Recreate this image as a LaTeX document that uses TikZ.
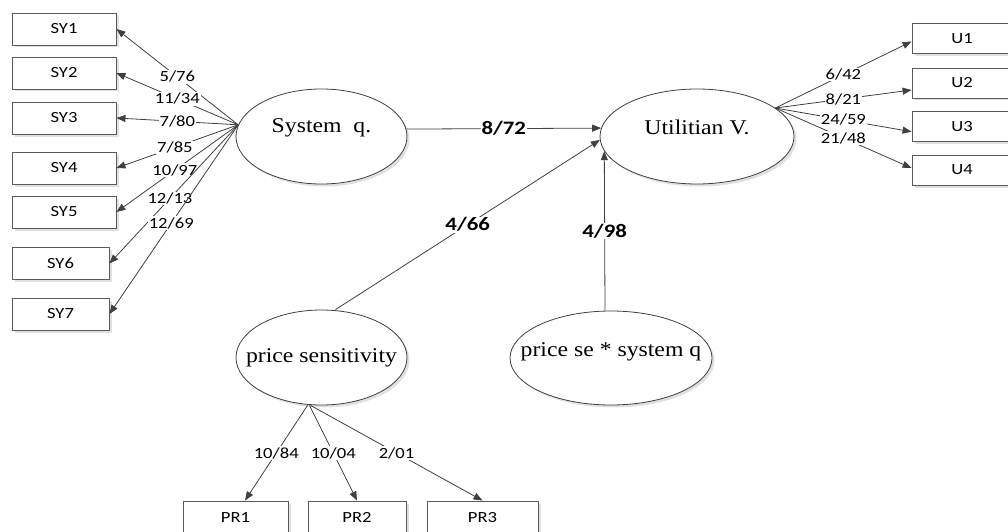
\documentclass[tikz,border=0pt]{standalone}
\usepackage{fontspec}
\newfontfamily\labfont{Carlito}[FakeStretch=1.2]
\newfontfamily\latfont{Liberation Serif}[FakeStretch=1.13]
\usetikzlibrary{shapes.geometric,arrows.meta,shadows}
\definecolor{edgecol}{HTML}{404040}
\definecolor{boxline}{HTML}{5A5A5A}
\tikzset{
  shad/.style={drop shadow={shadow xshift=2.5pt, shadow yshift=-2.5pt, fill=black!12, opacity=1}},
  obs/.style={draw=boxline, line width=0.9pt, fill=white, inner sep=0pt, shad,
    font=\labfont\fontsize{15.5}{18}\selectfont},
  lat/.style={ellipse, draw=black!75, line width=0.8pt, fill=white, inner sep=0pt, shad},
  latlab/.style={font=\latfont\fontsize{21}{24}\selectfont, inner sep=0pt},
  conn/.style={draw=edgecol, line width=0.8pt, -{Triangle[length=9pt,width=7pt]}},
  plain/.style={draw=edgecol, line width=0.8pt},
  coef/.style={fill=white, inner sep=1pt, text=black, font=\labfont\fontsize{15.5}{18}\selectfont},
  bcoef/.style={fill=white, inner sep=1pt, text=black, font=\labfont\bfseries\fontsize{19}{22}\selectfont},
}
\begin{document}
\begin{tikzpicture}[x=1pt,y=-1pt]
\useasboundingbox (0,0) rectangle (1008,532);
% observed boxes (left)
\node[obs, minimum width=104pt, minimum height=32pt] (sy1) at (64,29) {SY1};
\node[obs, minimum width=104pt, minimum height=32pt] (sy2) at (64,73) {SY2};
\node[obs, minimum width=104pt, minimum height=32pt] (sy3) at (64,118) {SY3};
\node[obs, minimum width=104pt, minimum height=32pt] (sy4) at (64,168) {SY4};
\node[obs, minimum width=104pt, minimum height=32pt] (sy5) at (64,212) {SY5};
\node[obs, minimum width=97pt, minimum height=32pt] (sy6) at (60.5,263.5) {SY6};
\node[obs, minimum width=97pt, minimum height=32pt] (sy7) at (60.5,314) {SY7};
% right boxes
\node[obs, minimum width=100pt, minimum height=30pt] (u1) at (962,38.5) {U1};
\node[obs, minimum width=100pt, minimum height=30pt] (u2) at (962,83) {U2};
\node[obs, minimum width=100pt, minimum height=30pt] (u3) at (962,126.7) {U3};
\node[obs, minimum width=100pt, minimum height=30pt] (u4) at (962,170) {U4};
% bottom boxes
\node[obs, minimum width=105pt, minimum height=33pt] (pr1) at (235.5,517.5) {PR1};
\node[obs, minimum width=98pt, minimum height=33pt] (pr2) at (357,517.5) {PR2};
\node[obs, minimum width=111pt, minimum height=33pt] (pr3) at (482.5,517.5) {PR3};
% latent ellipses
\node[lat, minimum width=171pt, minimum height=95pt,
  label={[latlab, yshift=9pt]center:System\ \ q.}] (sq) at (321.5,136.5) {};
\node[lat, minimum width=194pt, minimum height=95pt,
  label={[latlab, yshift=9.5pt]center:Utilitian V.}] (uv) at (697,136.5) {};
\node[lat, minimum width=171pt, minimum height=95pt,
  label={[latlab]center:price sensitivity}] (ps) at (321.5,357.5) {};
\node[lat, minimum width=202pt, minimum height=94pt,
  label={[latlab, yshift=6pt]center:price se * system q}] (pse) at (611,358) {};
% left connectors
\draw[conn] (sq.172) -- node[coef, pos=0.5]{5/76} (sy1.east);
\draw[conn] (sq.172) -- node[coef, pos=0.5]{11/34} (sy2.east);
\draw[conn] (sq.172) -- node[coef, pos=0.5]{7/80} (sy3.east);
\draw[conn] (sq.172) -- node[coef, pos=0.52]{7/85} (sy4.east);
\draw[conn] (sq.172) -- node[coef, pos=0.52]{10/97} (sy5.east);
\draw[conn] (sq.172) -- node[coef, pos=0.53]{12/13} (sy6.east);
\draw[conn] (sq.172) -- node[coef, pos=0.52]{12/69} (sy7.east);
% right connectors
\draw[conn] (uv.20) -- node[coef]{6/42} ([yshift=-3pt]u1.west);
\draw[conn] (uv.20) -- node[coef]{8/21} ([yshift=-7pt]u2.west);
\draw[conn] (uv.20) -- node[coef]{24/59} ([yshift=-5pt]u3.west);
\draw[conn] (uv.20) -- node[coef]{21/48} ([yshift=2pt]u4.west);
% bottom connectors
\draw[conn] ([xshift=-14pt]ps.south) -- node[coef]{10/84} ([xshift=9.5pt]pr1.north);
\draw[conn] ([xshift=-12pt]ps.south) -- node[coef]{10/04} (pr2.north);
\draw[conn] ([xshift=-11pt]ps.south) -- node[coef]{2/01} (pr3.north);
% structural paths
\draw[conn] (sq.5) -- node[bcoef]{8/72} (uv.175);
\draw[conn] ([xshift=14pt]ps.north) -- node[bcoef]{4/66} (uv.182);
\draw[conn] ([xshift=-6pt]pse.north) -- node[bcoef]{4/98} (uv.189);
\end{tikzpicture}
\end{document}
